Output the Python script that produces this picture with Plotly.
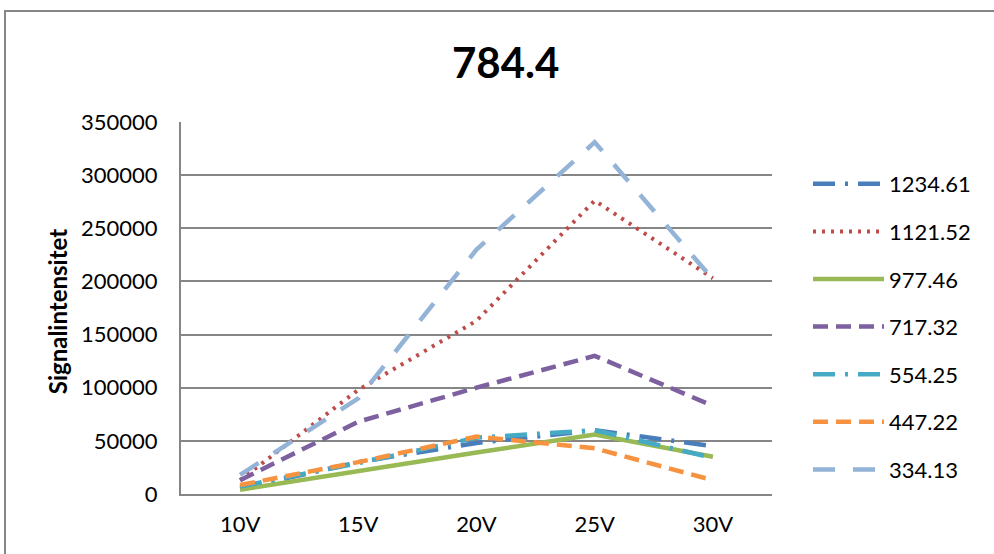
import plotly.graph_objects as go

# Collision voltage steps (x categories)
voltages = ["10V", "15V", "20V", "25V", "30V"]

# Signal intensity per fragment m/z, one list per series
s_1234_61 = [5000, 30000, 48000, 60000, 45000]
s_1121_52 = [13000, 98000, 163000, 276000, 203000]
s_977_46 = [4000, 22000, 39000, 56000, 35000]
s_717_32 = [13000, 68000, 100000, 130000, 83000]
s_554_25 = [7000, 29000, 53000, 60000, 34000]
s_447_22 = [8500, 30000, 54000, 43000, 13000]
s_334_13 = [18000, 90000, 230000, 331000, 202000]

series_names = ["1234.61", "1121.52", "977.46", "717.32", "554.25", "447.22", "334.13"]
series_values = [s_1234_61, s_1121_52, s_977_46, s_717_32, s_554_25, s_447_22, s_334_13]

y_ticks = [0, 50000, 100000, 150000, 200000, 250000, 300000, 350000]

styles = [
    dict(color="#4A7EBB", width=4.5, dash="22px,10px,3px,10px"),
    dict(color="#BE4B48", width=4, dash="3px,6px"),
    dict(color="#98B954", width=4.5, dash="solid"),
    dict(color="#7D60A0", width=4.5, dash="15px,8px"),
    dict(color="#46AAC5", width=4.5, dash="22px,10px,3px,10px"),
    dict(color="#F69240", width=4.5, dash="15px,8px"),
    dict(color="#93B3D7", width=4.5, dash="22px,18px"),
]

FONT = "Lato, Calibri, Arial, sans-serif"

fig = go.Figure()
for name, vals, st in zip(series_names, series_values, styles):
    fig.add_trace(go.Scatter(
        x=voltages, y=vals, name=name, mode="lines",
        line=st, legendgroup=name,
    ))

L, R, T, B = 181, 222, 122, 60
W, H = 994, 554
pw, ph = W - L - R, H - T - B

fig.update_layout(
    width=W, height=H,
    margin=dict(l=L, r=R, t=T, b=B, pad=0),
    paper_bgcolor="white", plot_bgcolor="white",
    font=dict(family=FONT, color="black", size=22),
    showlegend=True,
    legend=dict(
        x=(808 - L) / pw, xanchor="left",
        y=(H - B - 163) / ph, yanchor="top",
        font=dict(size=22, family=FONT),
        tracegroupgap=16, bgcolor="rgba(0,0,0,0)",
        itemwidth=71,
    ),
    xaxis=dict(
        type="category", showgrid=False, showline=True,
        linecolor="#868686", linewidth=2, ticks="",
        tickfont=dict(size=22), range=[-0.5, 4.5],
        ticklabelstandoff=10, fixedrange=True,
    ),
    yaxis=dict(
        range=[0, 350000], tickvals=y_ticks, tickformat="d",
        showgrid=True, gridcolor="#868686", gridwidth=1.5,
        showline=True, linecolor="#868686", linewidth=2,
        zeroline=False, ticks="", tickfont=dict(size=22),
        ticklabelstandoff=17, fixedrange=True,
    ),
    annotations=[
        dict(text="<b>784.4</b>", xref="paper", yref="paper",
             x=(505.5 - L) / pw, y=(H - B - 62) / ph,
             xanchor="center", yanchor="middle", showarrow=False,
             font=dict(size=42, family=FONT)),
        dict(text="<b>Signalintensitet</b>", xref="paper", yref="paper",
             x=(57.5 - L) / pw, y=0.49, textangle=-90,
             xanchor="center", yanchor="middle", showarrow=False,
             font=dict(size=24, family=FONT)),
    ],
    shapes=[
        dict(type="rect", xref="paper", yref="paper",
             x0=(5 - L) / pw, x1=(W + 20 - L) / pw,
             y0=-(B + 20) / ph, y1=(H - B - 11) / ph,
             line=dict(color="#868686", width=2), layer="below"),
    ],
)

fig.write_html("out.html")
